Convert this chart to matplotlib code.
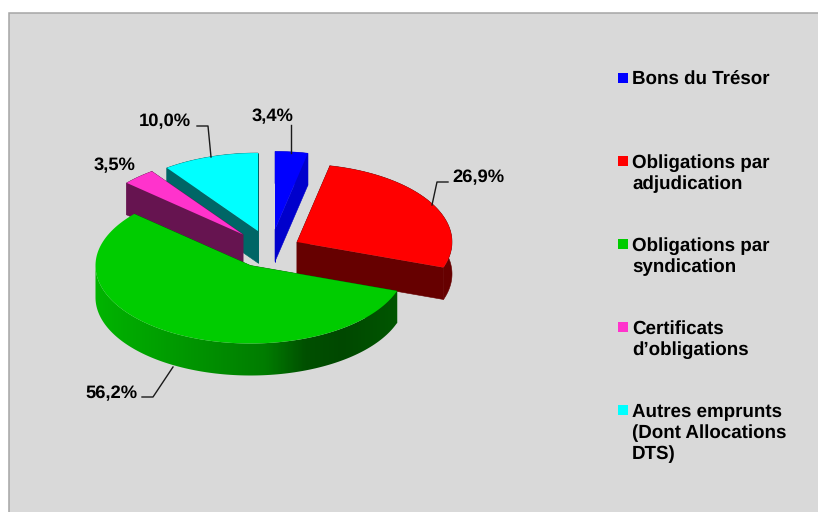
import numpy as np
import matplotlib
matplotlib.use("Agg")
import matplotlib.pyplot as plt
from matplotlib.colors import LinearSegmentedColormap
from matplotlib.patches import Polygon, Rectangle

plt.rcParams['font.family'] = ['Liberation Sans', 'DejaVu Sans']
plt.rcParams['text.hinting'] = 'no_hinting'

#Data
labels = ["Bons du Trésor", "Obligations par\nadjudication", "Obligations par\nsyndication",
          "Certificats\nd’obligations", "Autres emprunts\n(Dont Allocations\nDTS)"]
values = [3.4, 26.9, 56.2, 3.5, 10.0]
value_labels = ["3,4%", "26,9%", "56,2%", "3,5%", "10,0%"]

#Colours
top_colors = ["#0000FF", "#FF0000", "#00CC00", "#FF33CC", "#00FFFF"]
wall_colors = ["#0000CC", "#660000", "#006600", "#661450", "#006666"]

#Pie layout, in pixels
rx, ry, depth = 155, 78, 32
apex_x = [275, 297, 250.5, 243, 258]
apex_y = [229.5, 242, 265.5, 234.5, 231]
draw_order = [4, 3, 0, 1, 2]

fig = plt.figure(figsize=(8.18, 5.12), dpi=100, facecolor="white")
ax = fig.add_axes([0, 0, 1, 1])
ax.axis("off")

#Chart area
ax.add_patch(Rectangle((9, 12.5), 820, 510, facecolor="#D9D9D9", edgecolor="#A6A6A6", linewidth=1.1))

#Slice angles, clockwise from 12 o'clock
ends = np.cumsum(values) / np.sum(values) * 2 * np.pi
starts = np.concatenate(([0], ends[:-1]))

def arc(i, a0, a1, shift=0):
    t = np.linspace(a0, a1, 120)
    return np.column_stack((apex_x[i] + rx * np.sin(t), apex_y[i] - ry * np.cos(t) + shift))

for i in draw_order:
    apex = np.array([apex_x[i], apex_y[i]])
    down = np.array([0, depth])

    #Radial walls
    for a in (starts[i], ends[i]):
        edge = arc(i, a, a, 0)[0]
        ax.add_patch(Polygon([apex, edge, edge + down, apex + down], facecolor=wall_colors[i],
                             edgecolor=wall_colors[i], linewidth=0.4))

    #Rim
    if i == 2:
        #front half only, the green rim fades from left to right
        rim = np.vstack((arc(i, starts[i], np.pi * 1.5), arc(i, np.pi * 1.5, starts[i], depth)))
        rim_patch = Polygon(rim, facecolor="none", edgecolor="none")
        ax.add_patch(rim_patch)
        cmap = LinearSegmentedColormap.from_list("rim", [(0, "#00B400"), (0.3, "#009600"), (0.55, "#007C00"),
                                                         (0.68, "#005000"), (0.8, "#004800"), (1, "#005800")])
        img = ax.imshow(np.linspace(0, 1, 300).reshape(1, -1), cmap=cmap, aspect="auto",
                        extent=(95, 405, 380, 260), zorder=1)
        img.set_clip_path(rim_patch)
    else:
        rim = np.vstack((arc(i, starts[i], ends[i]), arc(i, ends[i], starts[i], depth)))
        ax.add_patch(Polygon(rim, facecolor=wall_colors[i], edgecolor=wall_colors[i], linewidth=0.4))

    #Top face
    top = np.vstack((apex, arc(i, starts[i], ends[i])))
    ax.add_patch(Polygon(top, facecolor=top_colors[i], edgecolor="none"))

ax.set_xlim(0, 818)
ax.set_ylim(512, 0)

#Leader lines
leaders = [([291, 291], [153, 125]),
           ([432, 437, 448], [205, 182, 182]),
           ([173, 153, 142], [367, 397, 397]),
           ([211, 208, 197], [157, 126, 126])]
for xs, ys in leaders:
    ax.plot(xs, ys, color="#1A1A1A", linewidth=1)

#Value labels
label_x = [272.5, 478.5, 111, 114.5, 165]
label_y = [121, 182, 398, 170, 126]
for x, y, s in zip(label_x, label_y, value_labels):
    ax.text(x, y, s, fontsize=13.2, fontweight="bold", ha="center", va="baseline", color="black")

#Legend
for i, lab in enumerate(labels):
    y = 79 + 83 * i
    ax.add_patch(Rectangle((618, y - 6), 10, 10, facecolor=top_colors[i], edgecolor="none"))
    for j, line in enumerate(lab.split("\n")):
        ax.text(632, y + 6 + 21 * j, line, fontsize=13.5, fontweight="bold", ha="left", va="baseline", color="black")

fig.savefig("out.png", dpi=100)
